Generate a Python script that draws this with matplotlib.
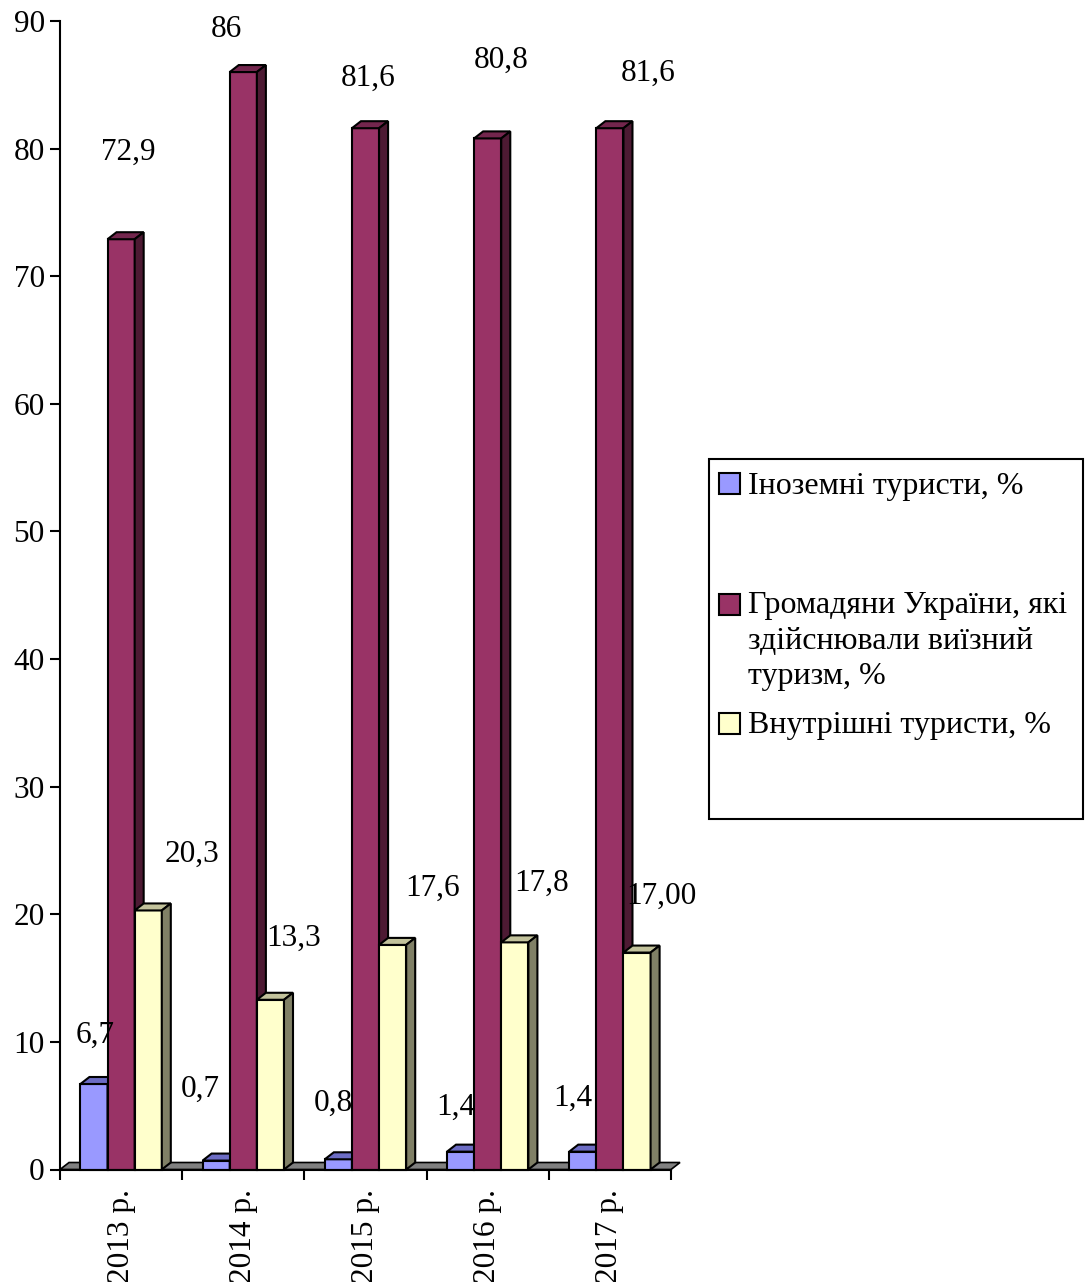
import matplotlib.pyplot as plt
from matplotlib.patches import Polygon, Rectangle

plt.rcParams['font.family'] = ['Liberation Serif', 'DejaVu Serif']

# Структура туристичних потоків, %
years = ['2013 р.', '2014 р.', '2015 р.', '2016 р.', '2017 р.']
series_names = ['Іноземні туристи, %',
                'Громадяни України, які\nздійснювали виїзний\nтуризм, %',
                'Внутрішні туристи, %']
foreign_txt = ['6,7', '0,7', '0,8', '1,4', '1,4']
outbound_txt = ['72,9', '86', '81,6', '80,8', '81,6']
domestic_txt = ['20,3', '13,3', '17,6', '17,8', '17,00']

# місця підписів (x у категоріях, y у відсотках)
foreign_lbl = [(0.29, 10.5), (1.15, 6.3), (2.24, 5.2), (3.24, 4.9), (4.20, 5.6)]
outbound_lbl = [(0.56, 79.7), (1.36, 89.3), (2.52, 85.5), (3.61, 86.9), (4.81, 85.9)]
domestic_lbl = [(1.08, 24.7), (1.91, 18.1), (3.05, 22.0), (3.94, 22.4), (4.92, 21.4)]

def to_num(items):
    return [float(s.replace(',', '.')) for s in items]

series_txt = [foreign_txt, outbound_txt, domestic_txt]
series_vals = [to_num(t) for t in series_txt]
series_lbl = [foreign_lbl, outbound_lbl, domestic_lbl]

# кольори: фронт, верх, бік
front = ['#9999FF', '#993366', '#FFFFCC']
top = ['#6C6CC4', '#73264D', '#C2C29B']
side = ['#5A5A99', '#4D1A33', '#808066']

fig = plt.figure(figsize=(10.87, 12.82), dpi=100)
ax = fig.add_axes([60 / 1087, 1 - 1169.5 / 1282, 611 / 1087, 1148.5 / 1282])

bw = 0.222
dx = 9 / 122            # глибина по x, у категоріях
dy = 7 * 90 / 1148.5    # глибина по y, у відсотках
n = len(years)

# підлога
ax.add_patch(Polygon([(0, 0), (dx, dy), (n + dx, dy), (n, 0)], closed=True,
                     facecolor='#808080', edgecolor='black', lw=1.2,
                     zorder=1, clip_on=False))

z = 2
for i in range(n):
    for s in range(3):
        v = series_vals[s][i]
        x0 = i + 0.5 + (s - 1.5) * bw
        x1 = x0 + bw
        ax.bar(x0, v, width=bw, align='edge', color=front[s],
               edgecolor='black', linewidth=1.5, zorder=z, clip_on=False)
        ax.add_patch(Polygon([(x0, v), (x0 + dx, v + dy), (x1 + dx, v + dy), (x1, v)],
                             closed=True, facecolor=top[s], edgecolor='black',
                             lw=1.5, zorder=z, clip_on=False))
        ax.add_patch(Polygon([(x1, 0), (x1 + dx, dy), (x1 + dx, v + dy), (x1, v)],
                             closed=True, facecolor=side[s], edgecolor='black',
                             lw=1.5, zorder=z, clip_on=False))
        z += 1

for s in range(3):
    for (lx, ly), t in zip(series_lbl[s], series_txt[s]):
        ax.text(lx, ly, t, ha='center', va='center', fontsize=22.5, zorder=50)

ax.set_xlim(0, n)
ax.set_ylim(0, 90)
ax.set_yticks(range(0, 91, 10))
ax.set_xticks(range(n + 1))
ax.set_xticks([i + 0.5 for i in range(n)], minor=True)
ax.set_xticklabels([])
ax.set_xticklabels(years, minor=True, rotation=90, fontsize=22.5)
ax.tick_params(axis='x', which='minor', length=0, pad=14)
ax.tick_params(axis='x', which='major', length=7, width=1.5, direction='out')
ax.tick_params(axis='y', length=7, width=1.5, direction='out', labelsize=22.5, pad=4)
for sp in ['top', 'right']:
    ax.spines[sp].set_visible(False)
for sp in ['left', 'bottom']:
    ax.spines[sp].set_linewidth(1.5)
    ax.spines[sp].set_zorder(60)

# легенда
W, H = 1087, 1282
def fx(px):
    return px / W
def fy(py):
    return 1 - py / H

fig.add_artist(Rectangle((fx(709), fy(819)), fx(1083) - fx(709), fy(459) - fy(819),
                         transform=fig.transFigure, facecolor='white',
                         edgecolor='black', lw=1.5))
sq_top = [473, 594, 713]
txt_y = [487, 606, 726]
for s in range(3):
    fig.add_artist(Rectangle((fx(719), fy(sq_top[s] + 21)), fx(21), 21 / H,
                             transform=fig.transFigure, facecolor=front[s],
                             edgecolor='black', lw=1.5))
    fig.text(fx(748), fy(txt_y[s] - 15), series_names[s], ha='left', va='top',
             fontsize=23, linespacing=1.3)

fig.savefig('out.png', dpi=100, facecolor='white')
